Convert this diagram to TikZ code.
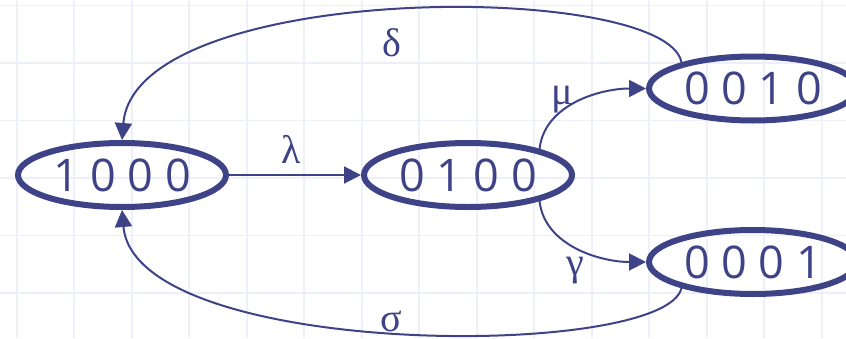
\documentclass[tikz,border=0pt]{standalone}
\usepackage{fontspec}
\setmainfont{Open Sans}
\newfontfamily\greekfont{Liberation Serif}
\usepackage{xcolor}
\usetikzlibrary{arrows.meta,shapes.geometric}
\definecolor{stnavy}{HTML}{3E4388}
\definecolor{stgrid}{HTML}{EDF0FB}

\begin{document}
\begin{tikzpicture}[
    x=0.5pt, y=-0.5pt,
    state/.style={ellipse, draw=stnavy, line width=3pt, inner sep=0pt,
                  minimum width=104pt, minimum height=32pt, text=stnavy,
                  font=\fontsize{22.5}{27}\selectfont},
    lbl/.style={text=stnavy, inner sep=0pt, font=\greekfont\fontsize{20}{24}\selectfont},
    flow/.style={-{Triangle[length=8.5pt,width=8.5pt]}, line width=1pt, draw=stnavy}
  ]
    \useasboundingbox (0,0) rectangle (846,338);
    \clip (0,0) rectangle (846,338);
    % background grid
    \foreach \k in {0,...,14}
      \draw[stgrid, line width=0.9pt] ({16.7+57.5*\k},0) -- ({16.7+57.5*\k},338);
    \foreach \k in {0,...,5}
      \draw[stgrid, line width=0.9pt] (0,{5.5+57.5*\k}) -- (846,{5.5+57.5*\k});

    \node[state] (s1000) at (122,175) {1 0 0 0};
    \node[state] (s0100) at (468,175) {0 1 0 0};
    \node[state] (s0010) at (753,88.5) {0 0 1 0};
    \node[state] (s0001) at (753,262) {0 0 0 1};

    \draw[flow] (s1000) -- (s0100);
    \draw[flow] (s0100.20) .. controls +(5,-45) and +(-45,0) .. (s0010.west);
    \draw[flow] (s0100.-20) .. controls +(5,45) and +(-45,0) .. (s0001.west);
    \draw[flow] (s0010.160) .. controls +(-15,-82) and +(13,-160) .. (s1000.north);
    \draw[flow] (s0001.200) .. controls +(-16,72) and +(13,150) .. (s1000.south);

    \node[lbl] (llambda) at (291,149) {λ};
    \node[lbl] (lmu) at (562,100) {μ};
    \node[lbl] (lgamma) at (575,271) {γ};
    \node[lbl] (ldelta) at (392,43) {δ};
    \node[lbl] (lsigma) at (391,321) {σ};
  \end{tikzpicture}
\end{document}
